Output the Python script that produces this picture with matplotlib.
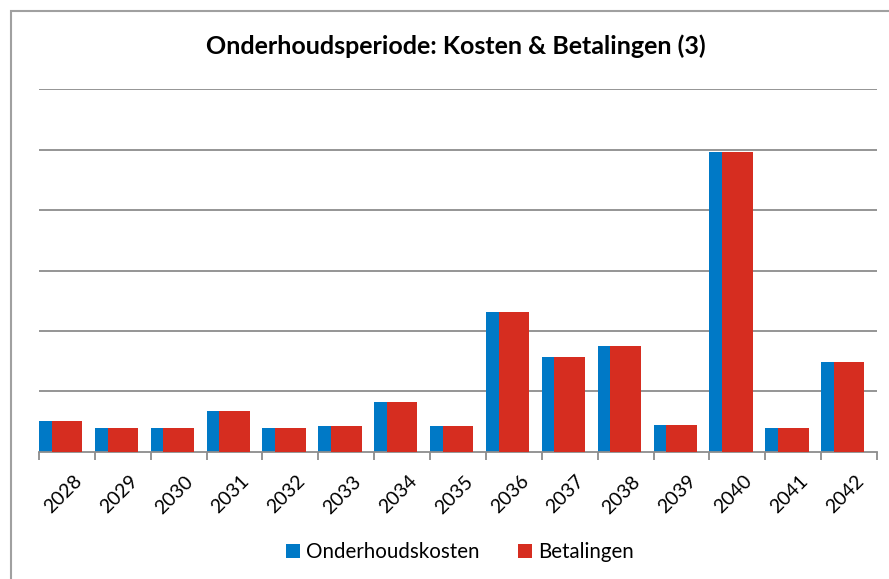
import matplotlib.pyplot as plt
import numpy as np
from matplotlib.patches import Rectangle
from matplotlib.transforms import ScaledTranslation

plt.rcParams['font.family'] = ['Lato', 'DejaVu Sans']

years = ['2028', '2029', '2030', '2031', '2032', '2033', '2034', '2035',
         '2036', '2037', '2038', '2039', '2040', '2041', '2042']
# y-axis has no labels, values read in grid steps
kosten = [0.51, 0.39, 0.39, 0.67, 0.40, 0.425, 0.83, 0.425,
          2.31, 1.57, 1.745, 0.45, 4.97, 0.39, 1.485]
betalingen = [0.51, 0.39, 0.39, 0.67, 0.40, 0.425, 0.83, 0.425,
              2.31, 1.57, 1.745, 0.45, 4.97, 0.39, 1.485]

blue = '#0079C6'
red = '#D62D20'
grey = '#8C8C8C'

fig = plt.figure(figsize=(8.89, 5.79), dpi=100)
ax = fig.add_axes([39/889, 1-451.7/579, (877-39)/889, (451.7-89.3)/579])

x = np.arange(len(years))
w = 0.547
shift = 0.227
ax.bar(x - 0.5, kosten, width=w, align='edge', color=blue, zorder=2, label='Onderhoudskosten')
ax.bar(x - 0.5 + shift, betalingen, width=w, align='edge', color=red, zorder=3, label='Betalingen')

ax.set_xlim(-0.5, len(years) - 0.5)
ax.set_ylim(0, 6)
ax.set_yticks(np.arange(1, 7))
ax.yaxis.grid(True, color=grey, linewidth=1.3)
ax.set_axisbelow(True)
ax.tick_params(axis='y', length=0, labelleft=False)

for s in ['left', 'right', 'top']:
    ax.spines[s].set_visible(False)
ax.spines['bottom'].set_color(grey)
ax.spines['bottom'].set_linewidth(1.3)

ax.set_xticks(x)
ax.set_xticklabels(years, rotation=45, ha='right', va='top', rotation_mode='anchor', fontsize=14)
ax.set_xticks(np.arange(-0.5, len(years)), minor=True)
ax.tick_params(axis='x', which='major', length=0, pad=15)
ax.tick_params(axis='x', which='minor', length=6, width=1.3, color=grey)
off = ScaledTranslation(6/100, 0, fig.dpi_scale_trans)
for lab in ax.get_xticklabels():
    lab.set_transform(lab.get_transform() + off)

fig.text(456/889, 1-46/579, 'Onderhoudsperiode: Kosten & Betalingen (3)',
         ha='center', va='center', fontsize=18, fontweight='bold')

fig.legend(loc='center', bbox_to_anchor=(460/889, 1-552/579), ncol=2, frameon=False,
           fontsize=14.8, handlelength=0.65, handleheight=0.65, handletextpad=0.3,
           columnspacing=1.9)

fig.patches.append(Rectangle((11/889, -0.1), 1.2, 1 - 11/579 + 0.1,
                             transform=fig.transFigure, fill=False,
                             edgecolor='#A0A0A0', linewidth=1.5))

fig.savefig('out.png', dpi=100)
